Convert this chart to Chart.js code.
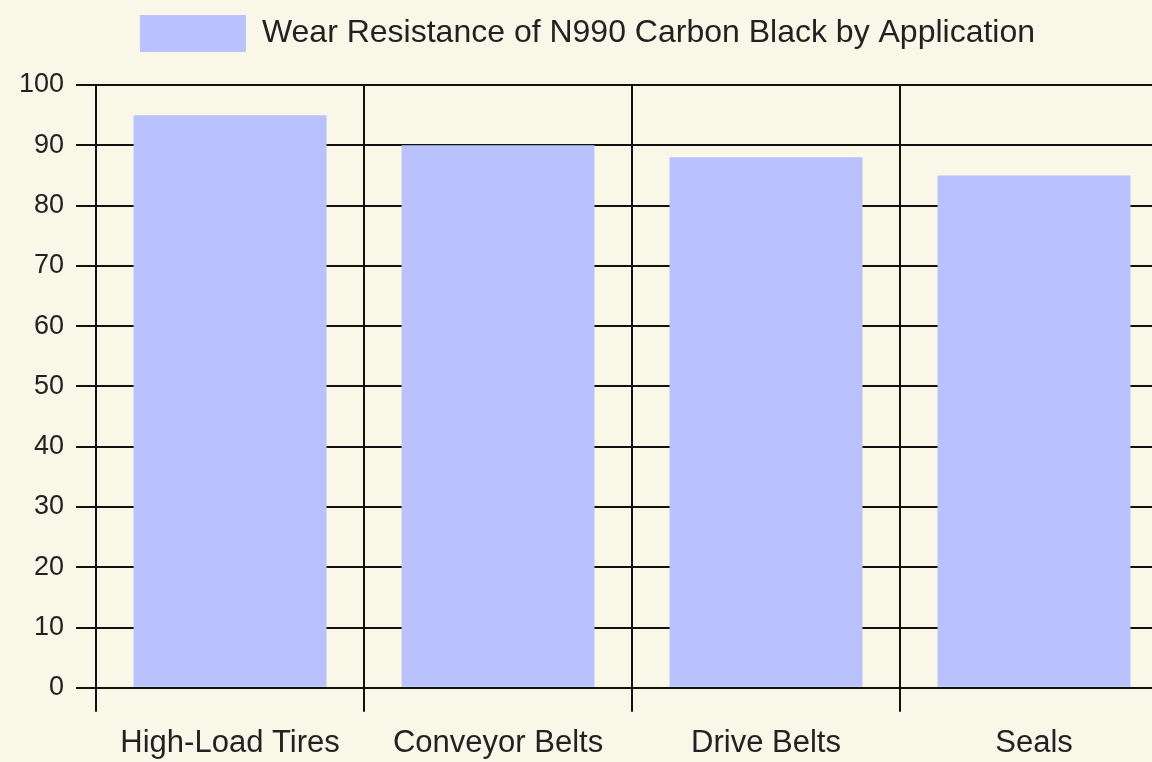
<!DOCTYPE html>
<html>
<head>
<meta charset="utf-8">
<script src="https://cdn.jsdelivr.net/npm/chart.js@4.4.1/dist/chart.umd.min.js"></script>
<style>
  html, body { margin: 0; padding: 0; background: #f9f7e8; overflow: hidden; }
  .wrap { position: relative; width: 1172px; height: 762px; }
</style>
</head>
<body>
<div class="wrap"><canvas id="wearChart"></canvas></div>
<script>
const applications = ['High-Load Tires', 'Conveyor Belts', 'Drive Belts', 'Seals'];
const wearResistance = [95, 90, 88, 85];
const seriesLabel = 'Wear Resistance of N990 Carbon Black by Application';

Chart.defaults.font.family = 'Arial, "Liberation Sans", sans-serif';
Chart.defaults.color = '#222';

// leave a bit more room under the legend
const legendGap = {
    id: 'legendGap',
    beforeInit(chart) {
        const fit = chart.legend.fit;
        chart.legend.fit = function () {
            fit.bind(chart.legend)();
            this.height += 23;
        };
    }
};

const ctx = document.getElementById('wearChart').getContext('2d');
const wearChart = new Chart(ctx, {
    type: 'bar',
    data: {
        labels: applications,
        datasets: [{
            label: seriesLabel,
            data: wearResistance,
            backgroundColor: 'rgb(186, 194, 253)',
            borderWidth: 0
        }]
    },
    options: {
        responsive: true,
        maintainAspectRatio: false,
        animation: false,
        layout: {
            padding: { top: 3, right: 4, left: 7, bottom: -13 }
        },
        scales: {
            x: {
                grid: {
                    color: '#111',
                    lineWidth: 2,
                    tickLength: 24
                },
                border: { color: '#111', width: 2 },
                ticks: { font: { size: 31 }, padding: 13 }
            },
            y: {
                min: 0,
                max: 100,
                ticks: { stepSize: 10, font: { size: 27 }, padding: 12 },
                grid: {
                    color: '#111',
                    lineWidth: 2,
                    tickLength: 20
                },
                border: { color: '#111', width: 2 }
            }
        },
        plugins: {
            legend: {
                position: 'top',
                labels: {
                    boxWidth: 106,
                    boxHeight: 37,
                    font: { size: 32 },
                    padding: 12
                }
            },
            tooltip: { enabled: false }
        }
    },
    plugins: [legendGap]
});
</script>
</body>
</html>
